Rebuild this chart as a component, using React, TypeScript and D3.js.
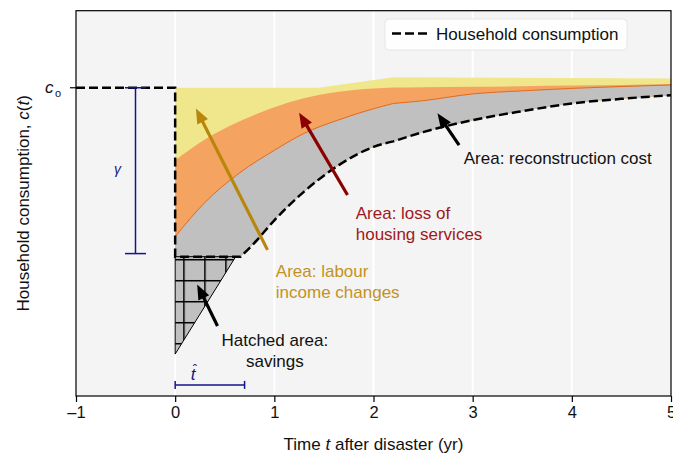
import React, { useEffect, useRef } from 'react';
import * as d3 from 'd3';

// consumption levels (c0 = 1)
const C0 = 1;
const C_MIN = 0.452;
const GAMMA_LOW = 0.462;
const GAMMA_T = -0.4;
const T_HAT = 0.7;
const T_HAT_LEVEL = 0.036;
const SAVINGS_T = [0, 0, 0.61];
const SAVINGS_C = [0.136, 0.452, 0.452];

const X_TICKS = [-1, 0, 1, 2, 3, 4, 5];
const X_TICK_LABELS = ['\u20131', '0', '1', '2', '3', '4', '5'];
const KINK_T = 2.2;

// tops of the stacked areas
const T_TOP = [0, 0.3, 0.65, 1.0, 1.3, 1.65, 2.0, 2.2, 2.5, 3.0, 3.5, 4.0, 4.5, 5.0];
const RECON_TOP = [0.517, 0.628, 0.724, 0.797, 0.852, 0.896, 0.932, 0.949, 0.958, 0.98, 0.99, 0.998, 1.004, 1.009];
const HOUSING_TOP = [0.765, 0.832, 0.891, 0.937, 0.966, 0.987, 0.998, 1.001, 1.002, 1.003, 1.005, 1.007, 1.009, 1.012];
const T_LABOUR = [0, 1.45, 2.2, 5.0];
const LABOUR_TOP = [1.0, 1.0, 1.034, 1.03];

// household consumption recovery after the flat part
const T_REC = [0.66, 0.8, 1.0, 1.3, 1.65, 2.0, 2.2, 2.5, 3.0, 3.5, 4.0, 4.5, 5.0];
const C_REC = [0.452, 0.497, 0.57, 0.663, 0.749, 0.808, 0.826, 0.856, 0.895, 0.924, 0.949, 0.964, 0.976];

const FONT = '"Liberation Sans", Arial, Helvetica, sans-serif';

const App = () => {
  const svgRef = useRef<SVGSVGElement>(null);

  useEffect(() => {
    const width = 673;
    const height = 457;
    const margin = { top: 10.7, right: 2, bottom: 61, left: 76 };

    const svg = d3.select(svgRef.current).attr('width', width).attr('height', height);
    svg.selectAll('*').remove();

    const x = d3.scaleLinear().domain([-1, 5]).range([margin.left, width - margin.right]);
    const y = d3.scaleLinear().domain([0, 1.25]).range([height - margin.bottom, margin.top]);

    const smooth = d3.line<number[]>().x(d => x(d[0])).y(d => y(d[1])).curve(d3.curveMonotoneX);
    const straight = d3.line<number[]>().x(d => x(d[0])).y(d => y(d[1]));

    const pathThrough = (ts: number[], cs: number[], gen = smooth) => {
      const pts = ts.map((t, i) => [t, cs[i]]);
      const k = ts.indexOf(KINK_T);
      if (k <= 0 || k >= ts.length - 1) return gen(pts) as string;
      return (gen(pts.slice(0, k + 1)) as string) + (gen(pts.slice(k)) as string).replace(/^M/, 'L');
    };

    const lowerRev = pathThrough([...T_REC].reverse(), [...C_REC].reverse()).replace(/^M/, 'L')
      + `L${x(0)},${y(C_MIN)}Z`;
    const layer = (top: string) => top + lowerRev;

    const defs = svg.append('defs');
    const pat = defs.append('pattern')
      .attr('id', 'hatch')
      .attr('patternUnits', 'userSpaceOnUse')
      .attr('width', 21).attr('height', 21)
      .attr('x', x(0) + 8).attr('y', y(C_MIN) + 2.3);
    pat.append('rect').attr('width', 21).attr('height', 21).attr('fill', '#c0c0c0');
    pat.append('rect').attr('width', 1.5).attr('height', 21).attr('fill', '#000');
    pat.append('rect').attr('width', 21).attr('height', 1.5).attr('fill', '#000');

    // plot background + vertical grid
    svg.append('rect')
      .attr('x', x(-1)).attr('y', y(1.25))
      .attr('width', x(5) - x(-1)).attr('height', y(0) - y(1.25))
      .attr('fill', '#f4f4f4');
    svg.append('g').selectAll('line').data(X_TICKS.slice(1, -1)).join('line')
      .attr('x1', d => x(d)).attr('x2', d => x(d))
      .attr('y1', y(1.25)).attr('y2', y(0))
      .attr('stroke', '#fff').attr('stroke-width', 2);

    // stacked areas
    svg.append('path').attr('d', layer(pathThrough(T_LABOUR, LABOUR_TOP, straight))).attr('fill', '#f0e68c');
    svg.append('path').attr('d', layer(pathThrough(T_TOP, HOUSING_TOP))).attr('fill', '#f4a460');
    svg.append('path').attr('d', layer(pathThrough(T_TOP, RECON_TOP))).attr('fill', '#c0c0c0');
    svg.append('path').attr('d', pathThrough(T_TOP, RECON_TOP)).attr('fill', 'none')
      .attr('stroke', '#e2691f').attr('stroke-width', 1);

    // savings triangle
    svg.append('path')
      .attr('d', straight(SAVINGS_T.map((t, i) => [t, SAVINGS_C[i]])) + 'Z')
      .attr('fill', 'url(#hatch)')
      .attr('stroke', '#000').attr('stroke-width', 1);

    // household consumption
    const dropPart = straight([[-1, C0], [0, C0], [0, C_MIN], [T_REC[0], C_MIN]]) as string;
    svg.append('path')
      .attr('d', dropPart + pathThrough(T_REC, C_REC).replace(/^M/, 'L'))
      .attr('fill', 'none').attr('stroke', '#000').attr('stroke-width', 2.5)
      .attr('stroke-dasharray', '9,4');

    // gamma bar
    const navy = '#15158a';
    const gb = svg.append('g').attr('stroke', navy).attr('stroke-width', 1.5);
    gb.append('line').attr('x1', x(GAMMA_T)).attr('x2', x(GAMMA_T)).attr('y1', y(C0)).attr('y2', y(GAMMA_LOW));
    [C0, GAMMA_LOW].forEach(v => {
      gb.append('line').attr('x1', x(GAMMA_T) - 10.5).attr('x2', x(GAMMA_T) + 10.5).attr('y1', y(v)).attr('y2', y(v));
    });
    svg.append('text').attr('x', x(GAMMA_T) - 18).attr('y', y(0.72))
      .attr('text-anchor', 'middle').attr('font-style', 'italic').attr('font-size', 14)
      .attr('font-family', FONT).attr('fill', navy).text('\u03b3');

    // t-hat bar
    const th = svg.append('g').attr('stroke', navy).attr('stroke-width', 1.5);
    th.append('line').attr('x1', x(0)).attr('x2', x(T_HAT)).attr('y1', y(T_HAT_LEVEL)).attr('y2', y(T_HAT_LEVEL));
    [0, T_HAT].forEach(v => {
      th.append('line').attr('x1', x(v)).attr('x2', x(v)).attr('y1', y(T_HAT_LEVEL) - 4).attr('y2', y(T_HAT_LEVEL) + 4);
    });
    svg.append('text').attr('x', x(0.18)).attr('y', y(T_HAT_LEVEL) - 5)
      .attr('text-anchor', 'middle').attr('font-style', 'italic').attr('font-size', 17)
      .attr('font-family', FONT).attr('fill', navy).text('t');
    svg.append('text').attr('x', x(0.2)).attr('y', y(T_HAT_LEVEL) - 11)
      .attr('text-anchor', 'middle').attr('font-size', 13)
      .attr('font-family', FONT).attr('fill', navy).text('\u02c6');

    // arrows
    const arrow = (tail: number[], head: number[], color: string) => {
      const x1 = x(tail[0]), y1 = y(tail[1]), x2 = x(head[0]), y2 = y(head[1]);
      const ang = Math.atan2(y2 - y1, x2 - x1);
      const hl = 15, hw = 12;
      const bx = x2 - hl * Math.cos(ang), by = y2 - hl * Math.sin(ang);
      const px = -Math.sin(ang) * hw / 2, py = Math.cos(ang) * hw / 2;
      svg.append('line').attr('x1', x1).attr('y1', y1).attr('x2', bx + Math.cos(ang) * 2).attr('y2', by + Math.sin(ang) * 2)
        .attr('stroke', color).attr('stroke-width', 3.2);
      svg.append('polygon')
        .attr('points', `${x2},${y2} ${bx + px},${by + py} ${bx - px},${by - py}`)
        .attr('fill', color);
    };
    arrow([0.931, 0.474], [0.209, 0.933], '#b8860b');
    arrow([1.738, 0.652], [1.25, 0.919], '#8b0000');
    arrow([2.863, 0.814], [2.645, 0.917], '#000');
    arrow([0.427, 0.227], [0.222, 0.362], '#000');

    // area labels
    const label = (t: number, c: number, lines: string[], color: string, anchor = 'start') => {
      const tx = svg.append('text').attr('x', x(t)).attr('y', y(c))
        .attr('font-family', FONT).attr('font-size', 17).attr('fill', color).attr('text-anchor', anchor);
      lines.forEach((s, i) => tx.append('tspan').attr('x', x(t)).attr('dy', i === 0 ? 0 : 21).text(s));
    };
    label(2.91, 0.752, ['Area: reconstruction cost'], '#111');
    label(1.821, 0.573, ['Area: loss of', 'housing services'], '#a01820');
    label(1.015, 0.387, ['Area: labour', 'income changes'], '#c4921c');
    label(1.005, 0.162, ['Hatched area:', 'savings'], '#111', 'middle');

    // frame
    svg.append('rect')
      .attr('x', x(-1)).attr('y', y(1.25))
      .attr('width', x(5) - x(-1)).attr('height', y(0) - y(1.25))
      .attr('fill', 'none').attr('stroke', '#000').attr('stroke-width', 1.2);

    // x axis
    const xAxis = svg.append('g').attr('transform', `translate(0,${y(0)})`)
      .call(d3.axisBottom(x).tickValues(X_TICKS).tickSize(6).tickPadding(4)
        .tickFormat((d, i) => X_TICK_LABELS[i]));
    xAxis.select('.domain').remove();
    xAxis.selectAll('line').attr('stroke', '#000').attr('stroke-width', 1.2);
    xAxis.selectAll('text').attr('font-family', FONT).attr('font-size', 16.5).attr('fill', '#111');

    // y tick (c0)
    svg.append('line').attr('x1', x(-1) - 6).attr('x2', x(-1)).attr('y1', y(C0)).attr('y2', y(C0))
      .attr('stroke', '#000').attr('stroke-width', 1.2);
    const c0 = svg.append('text').attr('x', x(-1) - 31).attr('y', y(C0) + 5)
      .attr('font-family', FONT).attr('fill', '#111');
    c0.append('tspan').attr('font-size', 17).attr('font-style', 'italic').text('c');
    c0.append('tspan').attr('font-size', 11).attr('dx', 1.5).attr('dy', 4).text('o');

    // axis titles
    const xt = svg.append('text').attr('x', (x(-1) + x(5)) / 2).attr('y', 449.5)
      .attr('text-anchor', 'middle').attr('font-family', FONT).attr('font-size', 17).attr('fill', '#111');
    xt.append('tspan').text('Time ');
    xt.append('tspan').attr('font-style', 'italic').text('t');
    xt.append('tspan').text(' after disaster (yr)');

    const yt = svg.append('text')
      .attr('transform', `translate(28.5,${(y(0) + y(1.25)) / 2}) rotate(-90)`)
      .attr('text-anchor', 'middle').attr('font-family', FONT).attr('font-size', 17).attr('fill', '#111');
    yt.append('tspan').text('Household consumption, ');
    yt.append('tspan').attr('font-style', 'italic').text('c');
    yt.append('tspan').text('(');
    yt.append('tspan').attr('font-style', 'italic').text('t');
    yt.append('tspan').text(')');

    // legend
    const lg = svg.append('g').attr('transform', 'translate(385,19)');
    lg.append('rect').attr('width', 242).attr('height', 31).attr('rx', 4)
      .attr('fill', '#fff').attr('fill-opacity', 0.85).attr('stroke', '#e6e6e6');
    lg.append('line').attr('x1', 7).attr('x2', 42).attr('y1', 14.5).attr('y2', 14.5)
      .attr('stroke', '#000').attr('stroke-width', 2.5).attr('stroke-dasharray', '9,4');
    lg.append('text').attr('x', 51).attr('y', 20.5)
      .attr('font-family', FONT).attr('font-size', 17).attr('fill', '#111').text('Household consumption');
  }, []);

  return (
    <div style={{ position: 'absolute', left: 0, top: 0 }}>
      <svg ref={svgRef}></svg>
    </div>
  );
};

export default App;
